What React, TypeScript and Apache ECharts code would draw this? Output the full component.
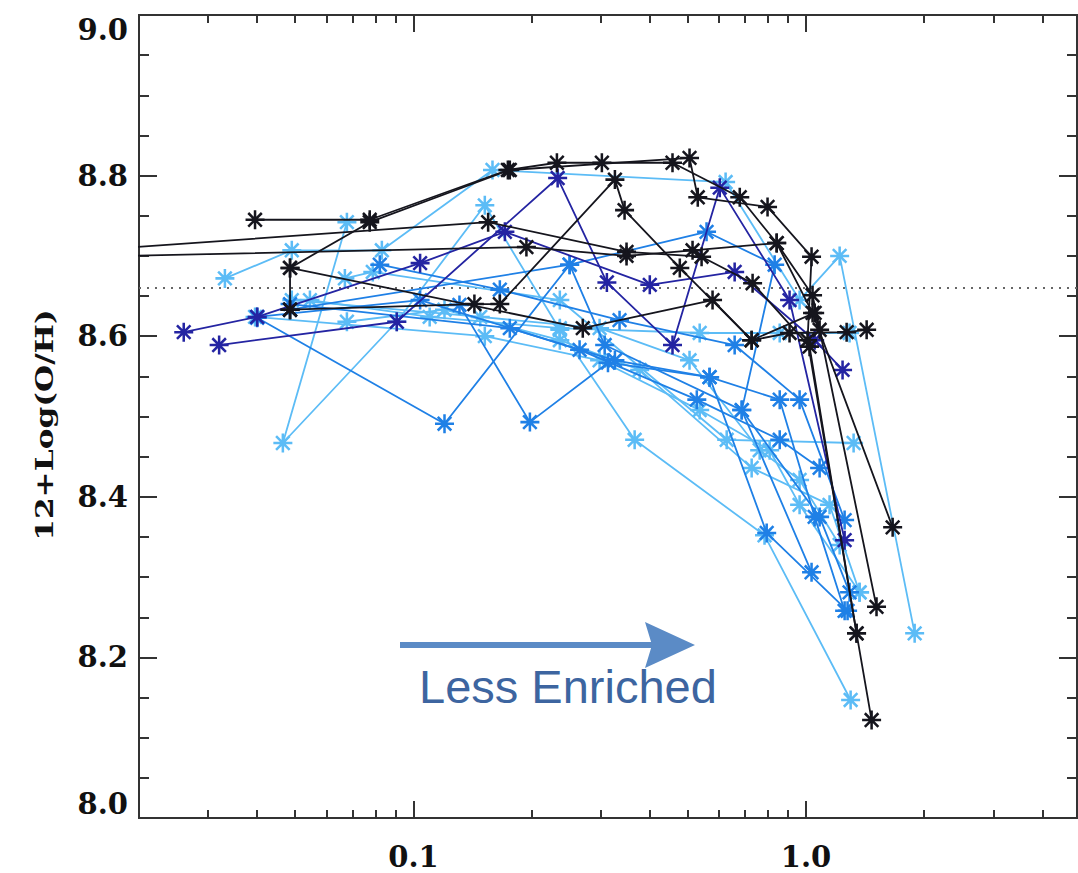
import React, { useEffect, useRef } from "react";
import * as echarts from "echarts";

// ---- axes ----
const xMin = 0.02;
const xMax = 4.9;
const yMin = 8.0;
const yMax = 9.0;
const yInterval = 0.2;
const solarOH = 8.66;
const majorXTicks = [0.1, 1];
const minorXTicks = [0.03, 0.04, 0.05, 0.06, 0.07, 0.08, 0.09, 0.2, 0.3, 0.4, 0.5, 0.6, 0.7, 0.8, 0.9, 2, 3, 4];
const yTitle = "12+Log(O/H)";
const arrowText = "Less Enriched";

// ---- profiles: [ratio, 12+log(O/H)] ----
const lightProfiles: number[][][] = [
  [[0.0331, 8.672], [0.049, 8.707], [0.0831, 8.707], [0.159, 8.807], [0.624, 8.792], [0.963, 8.645], [1.218, 8.7], [1.891, 8.23]],
  [[0.0677, 8.742], [0.0465, 8.467], [0.0907, 8.618], [0.152, 8.763], [0.236, 8.608], [0.366, 8.471], [0.784, 8.352], [1.299, 8.147]],
  [[0.0669, 8.672], [0.0788, 8.68], [0.236, 8.645], [0.628, 8.471], [1.322, 8.467]],
  [[0.0677, 8.618], [0.12, 8.633], [0.236, 8.595], [0.377, 8.558], [0.727, 8.436], [1.148, 8.39], [1.369, 8.281]],
  [[0.049, 8.645], [0.148, 8.624], [0.298, 8.61], [0.505, 8.57], [0.762, 8.458], [0.963, 8.421], [1.218, 8.34]],
  [[0.0545, 8.645], [0.11, 8.624], [0.236, 8.61], [0.536, 8.604], [0.857, 8.604], [1.291, 8.604]],
  [[0.0395, 8.624], [0.152, 8.6], [0.298, 8.57], [0.536, 8.508], [0.808, 8.458], [0.963, 8.39], [1.369, 8.281]],
];
const mediumProfiles: number[][][] = [
  [[0.04, 8.623], [0.12, 8.491], [0.25, 8.689], [0.558, 8.73], [0.832, 8.689], [0.686, 8.508], [1.033, 8.306]],
  [[0.131, 8.639], [0.198, 8.493], [0.313, 8.567], [0.568, 8.549], [0.794, 8.355], [1.276, 8.258]],
  [[0.0485, 8.633], [0.25, 8.689], [0.307, 8.589], [0.686, 8.508], [1.083, 8.375], [1.291, 8.281]],
  [[0.04, 8.624], [0.104, 8.645], [0.265, 8.583], [0.527, 8.521], [0.857, 8.471], [1.083, 8.436]],
  [[0.0821, 8.689], [0.166, 8.658], [0.335, 8.62], [0.658, 8.589], [0.963, 8.521], [1.254, 8.371]],
  [[0.0485, 8.64], [0.176, 8.61], [0.326, 8.57], [0.568, 8.549], [0.857, 8.521], [1.052, 8.375], [1.254, 8.258]],
];
const navyProfiles: number[][][] = [
  [[0.026, 8.605], [0.04, 8.624], [0.104, 8.691], [0.171, 8.73], [0.4, 8.664], [0.658, 8.68], [1.052, 8.595], [1.239, 8.558]],
  [[0.032, 8.589], [0.0907, 8.618], [0.233, 8.797], [0.311, 8.667], [0.457, 8.589], [0.603, 8.785], [0.908, 8.645], [1.254, 8.346]],
];
const blackProfiles: number[][][] = [
  [[0.015, 8.707], [0.155, 8.742], [0.349, 8.705], [0.542, 8.699], [0.731, 8.666], [1.021, 8.587], [1.345, 8.23], [1.469, 8.122]],
  [[0.015, 8.699], [0.194, 8.711], [0.349, 8.7], [0.514, 8.707], [0.842, 8.716], [1.039, 8.651], [1.512, 8.263]],
  [[0.0395, 8.745], [0.0774, 8.745], [0.174, 8.807], [0.232, 8.816], [0.302, 8.816], [0.457, 8.816], [0.678, 8.773], [0.842, 8.716], [1.039, 8.629], [1.662, 8.362]],
  [[0.0485, 8.633], [0.0485, 8.685], [0.27, 8.61], [0.578, 8.645], [0.727, 8.595], [0.908, 8.604], [1.269, 8.605], [1.427, 8.608]],
  [[0.0485, 8.685], [0.0774, 8.742], [0.176, 8.807], [0.505, 8.822], [0.53, 8.773], [0.798, 8.761], [1.033, 8.699], [1.009, 8.595], [1.345, 8.23]],
  [[0.0485, 8.633], [0.143, 8.64], [0.166, 8.64], [0.326, 8.795], [0.345, 8.757], [0.477, 8.685], [0.727, 8.595], [1.052, 8.629], [1.083, 8.608]],
];

const COLORS = { light: "#5cbcf6", medium: "#1f80e6", navy: "#2424a2", black: "#15151d" };

const STAR =
  "path://M8.8 1L11.2 1L11.2 19L8.8 19Z M1 8.8L19 8.8L19 11.2L1 11.2Z M2.73 4.43L4.43 2.73L17.27 15.57L15.57 17.27Z M15.57 2.73L17.27 4.43L4.43 17.27L2.73 15.57Z";

const axisColor = "#333";
const tickFont = { fontFamily: "DejaVu Serif", fontWeight: "bold", fontSize: 29, color: "#111" } as const;

function makeSeries(groups: number[][][], color: string, z: number) {
  return groups.map((data) => ({
    type: "line",
    data,
    xAxisIndex: 0,
    yAxisIndex: 0,
    symbol: STAR,
    symbolSize: 19,
    showSymbol: true,
    lineStyle: { color, width: 1.8 },
    itemStyle: { color },
    z,
    silent: true,
    clip: true,
  }));
}

export default function App() {
  const ref = useRef<HTMLDivElement>(null);
  useEffect(() => {
    if (!ref.current) return;
    const chart = echarts.init(ref.current, undefined, { renderer: "svg" });
    const logX = (pos: "bottom" | "top", ticks: number[], len: number, labels: boolean) => ({
      type: "log",
      logBase: 10,
      position: pos,
      min: xMin,
      max: xMax,
      gridIndex: 0,
      axisLine: { show: true, onZero: false, lineStyle: { color: axisColor, width: 2 } },
      axisTick: { show: true, inside: true, length: len, customValues: ticks, lineStyle: { color: axisColor, width: 2 } },
      axisLabel: labels
        ? {
            show: true,
            customValues: majorXTicks,
            margin: 24,
            ...tickFont,
            formatter: (v: number) => (Math.abs(v - 1) < 1e-6 ? "1.0" : Math.abs(v - 0.1) < 1e-6 ? "0.1" : ""),
          }
        : { show: false },
      splitLine: { show: false },
      minorTick: { show: false },
    });
    const valY = (pos: "left" | "right", labels: boolean) => ({
      type: "value",
      position: pos,
      min: yMin,
      max: yMax,
      interval: yInterval,
      gridIndex: 0,
      axisLine: { show: true, onZero: false, lineStyle: { color: axisColor, width: 2 } },
      axisTick: { show: true, inside: true, length: 18, lineStyle: { color: axisColor, width: 2 } },
      minorTick: { show: true, splitNumber: 4, length: 10, lineStyle: { color: axisColor, width: 2 } },
      axisLabel: labels
        ? {
            show: true,
            margin: 11,
            ...tickFont,
            verticalAlignMaxLabel: "top",
            verticalAlignMinLabel: "bottom",
            formatter: (v: number) => v.toFixed(1),
          }
        : { show: false },
      splitLine: { show: false },
      minorSplitLine: { show: false },
    });

    const option: any = {
      animation: false,
      backgroundColor: "#fff",
      grid: { left: 139, right: 1, top: 15, bottom: 55, containLabel: false, outerBoundsMode: "none" },
      xAxis: [
        logX("bottom", majorXTicks, 17, true),
        logX("bottom", minorXTicks, 8, false),
        logX("top", majorXTicks, 17, false),
        logX("top", minorXTicks, 8, false),
      ],
      yAxis: [valY("left", true), valY("right", false)],
      series: [
        {
          type: "line",
          data: [
            [xMin, solarOH],
            [xMax, solarOH],
          ],
          symbol: "none",
          lineStyle: { color: "#666", width: 2, type: [2, 6] },
          silent: true,
          z: 1,
        },
        ...makeSeries(lightProfiles, COLORS.light, 2),
        ...makeSeries(mediumProfiles, COLORS.medium, 3),
        ...makeSeries(navyProfiles, COLORS.navy, 4),
        ...makeSeries(blackProfiles, COLORS.black, 5),
      ],
      graphic: [
        {
          type: "text",
          x: 45,
          y: 425,
          rotation: Math.PI / 2,
          scaleX: 1.3,
          style: {
            text: yTitle,
            font: "bold 24px 'DejaVu Serif', serif",
            fill: "#111",
            textAlign: "center",
            textVerticalAlign: "middle",
          },
          z: 100,
        },
        {
          type: "rect",
          shape: { x: 400, y: 642, width: 255, height: 6 },
          style: { fill: "#5b8bc6" },
          z: 100,
        },
        {
          type: "polygon",
          shape: { points: [[645, 622], [695, 645], [645, 668], [652, 645]] },
          style: { fill: "#5b8bc6" },
          z: 100,
        },
        {
          type: "text",
          style: {
            x: 419,
            y: 686,
            text: arrowText,
            font: "47px 'Liberation Sans', Arial, sans-serif",
            fill: "#3d65a0",
            textAlign: "left",
            textVerticalAlign: "middle",
          },
          z: 100,
        },
      ],
    };
    chart.setOption(option);
    return () => chart.dispose();
  }, []);
  return <div ref={ref} style={{ position: "absolute", left: 0, top: 0, width: 1078, height: 873 }} />;
}
